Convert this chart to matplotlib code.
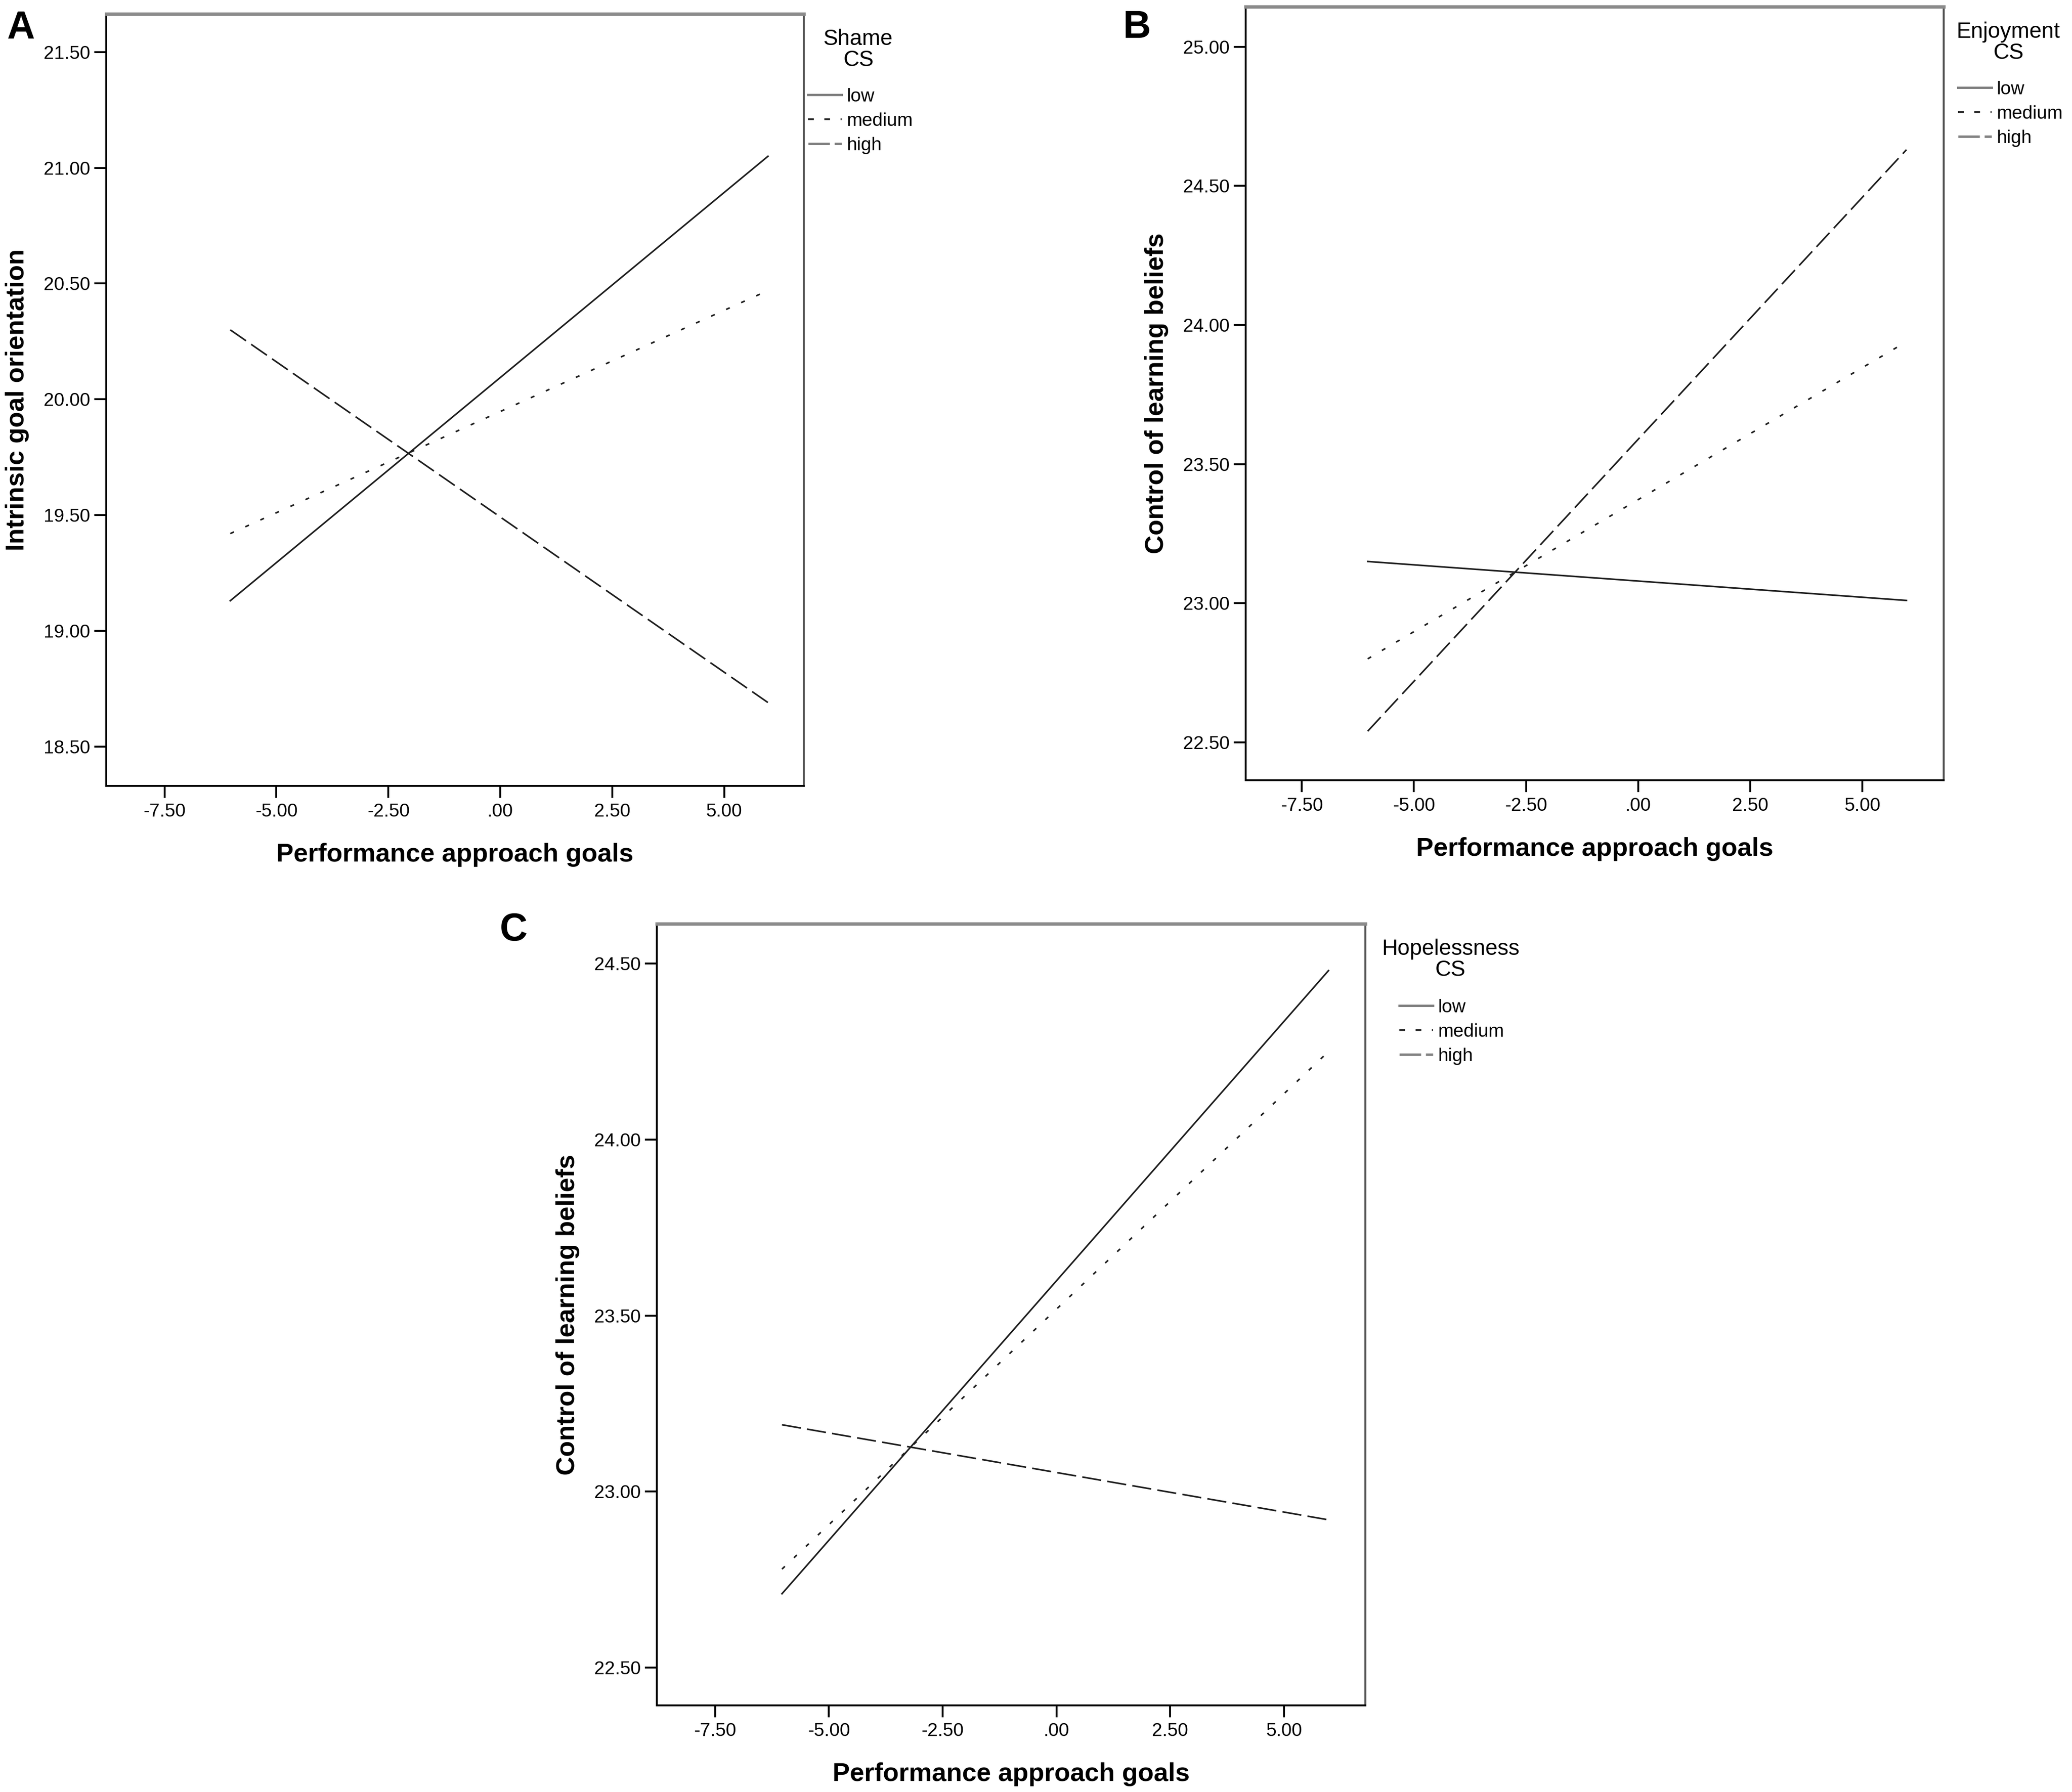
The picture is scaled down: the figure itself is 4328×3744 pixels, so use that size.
import matplotlib
matplotlib.use('Agg')
import matplotlib.pyplot as plt
from matplotlib.lines import Line2D

plt.rcParams['font.family'] = ['Liberation Sans', 'DejaVu Sans']
plt.rcParams['lines.scale_dashes'] = False

# ---- data ----
x_range = [-6.03, 5.98]          # min / max of performance approach goals
levels = ['low', 'medium', 'high']

shame_low = [19.13, 21.05]
shame_medium = [19.42, 20.47]
shame_high = [20.30, 18.69]

enjoy_low = [23.15, 23.01]
enjoy_medium = [22.80, 23.94]
enjoy_high = [22.54, 24.63]

hope_low = [22.71, 24.48]
hope_medium = [22.78, 24.25]
hope_high = [23.19, 22.92]

x_ticks = [-7.5, -5.0, -2.5, 0.0, 2.5, 5.0]
x_tick_labels = ['-7.50', '-5.00', '-2.50', '.00', '2.50', '5.00']

yticks_a = [18.5, 19.0, 19.5, 20.0, 20.5, 21.0, 21.5]
yticks_b = [22.5, 23.0, 23.5, 24.0, 24.5, 25.0]
yticks_c = [22.5, 23.0, 23.5, 24.0, 24.5]

# ---- layout (pixels of the 4328 x 3744 output) ----
W, H = 4328, 3744
DPI = 200
fig = plt.figure(figsize=(W / DPI, H / DPI), dpi=DPI)


def box(left, top, right, bottom):
    return [left / W, 1 - bottom / H, (right - left) / W, (bottom - top) / H]


line_styles = {
    'low': dict(linestyle='-'),
    'medium': dict(linestyle=(0, (3.0, 9.4))),
    'high': dict(linestyle=(0, (14.4, 4.7))),
}
legend_handles = [
    Line2D([], [], color='#808080', lw=1.8, linestyle='-'),
    Line2D([], [], color='#222222', lw=1.3, linestyle=(0, (4.3, 7.9))),
    Line2D([], [], color='#808080', lw=1.8, linestyle=(0, (16.2, 3.6))),
]


def panel(rect, series, ylim, xlim, yticks, ylabel, letter, letter_xy,
          legend_title, title_xy, legend_xy):
    ax = fig.add_axes(box(*rect))
    for name, vals in zip(levels, series):
        ax.plot(x_range, vals, color='#1e1e1e', lw=1.2, **line_styles[name])
    ax.set_xlim(xlim)
    ax.set_ylim(ylim)
    ax.set_xticks(x_ticks)
    ax.set_xticklabels(x_tick_labels)
    ax.set_yticks(yticks)
    ax.set_yticklabels(['%.2f' % v for v in yticks])
    ax.tick_params(direction='out', length=9, width=1.4, labelsize=14, pad=3)
    ax.tick_params(axis='x', pad=4)
    for s in ['left', 'bottom']:
        ax.spines[s].set_linewidth(1.4)
        ax.spines[s].set_color('black')
    ax.spines['top'].set_linewidth(2.5)
    ax.spines['top'].set_color('#8a8a8a')
    ax.spines['right'].set_linewidth(1.5)
    ax.spines['right'].set_color('#555555')
    ax.set_xlabel('Performance approach goals', fontsize=19.5, fontweight='bold', labelpad=17)
    ax.set_ylabel(ylabel, fontsize=19.5, fontweight='bold', labelpad=11)

    fig.text(letter_xy[0] / W, 1 - letter_xy[1] / H, letter, fontsize=29,
             fontweight='bold', ha='left', va='top')
    fig.text(title_xy[0] / W, 1 - title_xy[1] / H, legend_title, fontsize=16.5,
             ha='center', va='top', multialignment='center', linespacing=1.0)
    ax.legend(legend_handles, levels, loc='upper left',
              bbox_to_anchor=(legend_xy[0] / W, 1 - legend_xy[1] / H),
              bbox_transform=fig.transFigure, frameon=False, fontsize=14,
              borderpad=0, borderaxespad=0, handlelength=1.8,
              handletextpad=0.26, labelspacing=0.38)
    return ax


panel((222, 29, 1679, 1642), [shame_low, shame_medium, shame_high],
      (18.33, 21.665), (-8.80, 6.78), yticks_a, 'Intrinsic goal orientation',
      'A', (15, 20), 'Shame\nCS', (1793, 60), (1688, 184))

panel((2602, 14, 4060, 1630), [enjoy_low, enjoy_medium, enjoy_high],
      (22.364, 25.144), (-8.75, 6.81), yticks_b, 'Control of learning beliefs',
      'B', (2346, 20), 'Enjoyment\nCS', (4195, 45), (4090, 169))

panel((1372, 1930, 2852, 3563), [hope_low, hope_medium, hope_high],
      (22.393, 24.613), (-8.78, 6.79), yticks_c, 'Control of learning beliefs',
      'C', (1044, 1906), 'Hopelessness\nCS', (3030, 1961), (2923, 2087))

fig.savefig('out.png', dpi=DPI, facecolor='white')
